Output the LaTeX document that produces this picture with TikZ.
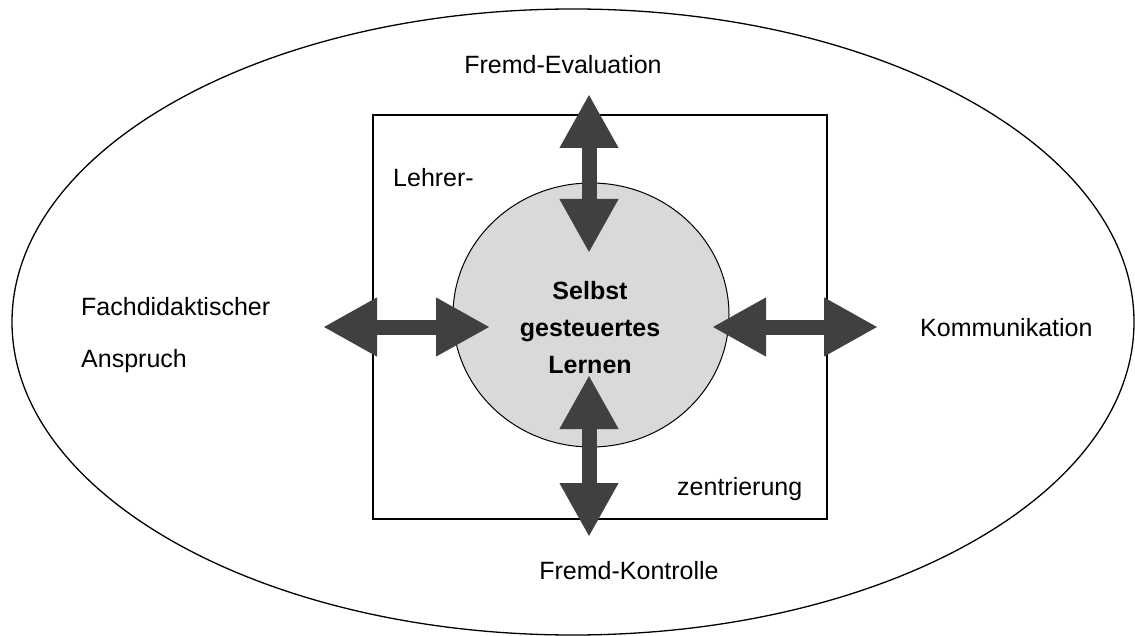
\documentclass[tikz,border=0pt]{standalone}
\usepackage{fontspec}
\setmainfont{Liberation Sans}
\usetikzlibrary{arrows.meta,shapes.geometric}

\tikzset{
    etichetta/.style={inner sep=0pt, font=\fontsize{25}{30}\selectfont},
    freccia/.style={line width=15pt, color=black!75, >={Triangle[width=55pt,length=54pt]}, <->},
}

\begin{document}
\begin{tikzpicture}[x=1pt,y=-1pt]
        \useasboundingbox (0,0) rectangle (1135,636);

         % Ellisse, rettangolo e cerchio
        \draw[line width=1.3pt] (573,322) ellipse [x radius=561, y radius=313];
        \draw[line width=1.3pt] (373,115) rectangle (827,519);
        \node[ellipse, draw, line width=1pt, fill=gray!30, minimum width=276pt, minimum height=264pt] (kreis) at (591,315) {};
        \node[etichetta, font=\fontsize{25}{37}\selectfont\bfseries, align=center] (sgl) at (590,328) {Selbst\\gesteuertes\\Lernen};

         % Punti delle frecce
        \coordinate (evalA) at (589,94);
        \coordinate (evalB) at (589,253);
        \coordinate (kontA) at (589,375);
        \coordinate (kontB) at (589,537);
        \coordinate (fachA) at (323,327);
        \coordinate (fachB) at (490,327);
        \coordinate (kommA) at (712,327);
        \coordinate (kommB) at (878,327);

         % Frecce doppie
        \draw[freccia] (evalA) -- (evalB);
        \draw[freccia] (kontA) -- (kontB);
        \draw[freccia] (fachA) -- (fachB);
        \draw[freccia] (kommA) -- (kommB);

         % Etichette
        \node[etichetta, anchor=base] (eval) at (563,74) {Fremd-Evaluation};
        \node[etichetta, anchor=base] (kont) at (629,579) {Fremd-Kontrolle};
        \node[etichetta, anchor=base west] (fach) at (81,316) {Fachdidaktischer};
        \node[etichetta, anchor=base west] (anspruch) at (81,367) {Anspruch};
        \node[etichetta, anchor=base west] (komm) at (920,337) {Kommunikation};
        \node[etichetta, anchor=base west] (lehrer) at (393,187) {Lehrer-};
        \node[etichetta, anchor=base west] (zentr) at (677,495) {zentrierung};
    \end{tikzpicture}
\end{document}
